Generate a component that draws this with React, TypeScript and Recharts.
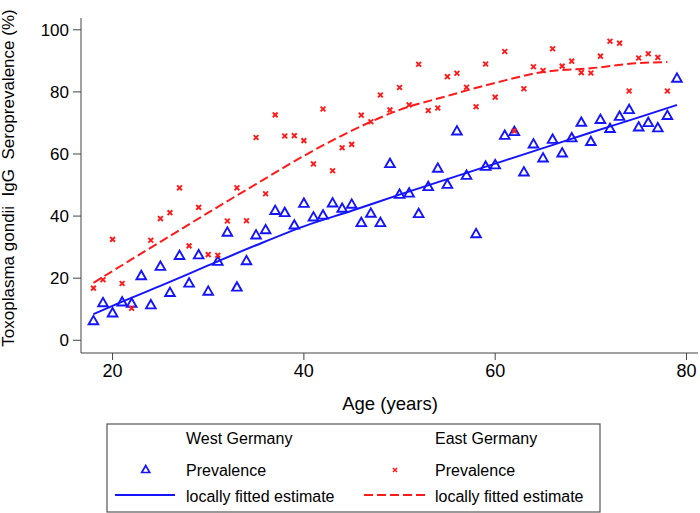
import React from 'react';
import { ComposedChart, XAxis, YAxis, Scatter, Line } from 'recharts';

const westAges = [18, 19, 20, 21, 22, 23, 24, 25, 26, 27, 28, 29, 30, 31, 32, 33, 34, 35, 36, 37, 38, 39, 40, 41, 42, 43, 44, 45, 46, 47, 48, 49, 50, 51, 52, 53, 54, 55, 56, 57, 58, 59, 60, 61, 62, 63, 64, 65, 66, 67, 68, 69, 70, 71, 72, 73, 74, 75, 76, 77, 78, 79];
const westPrevalence = [6.4, 12.2, 8.9, 12.4, 12.0, 20.9, 11.5, 23.9, 15.5, 27.4, 18.5, 27.6, 15.9, 25.5, 34.9, 17.2, 25.7, 34.0, 35.7, 41.9, 41.2, 37.2, 44.2, 39.8, 40.4, 44.3, 42.6, 43.9, 38.0, 41.0, 38.0, 57.0, 47.1, 47.5, 40.9, 49.6, 55.5, 50.3, 67.5, 53.2, 34.4, 56.1, 56.6, 66.1, 67.3, 54.3, 63.3, 58.8, 64.8, 60.4, 65.3, 70.3, 64.1, 71.2, 68.3, 72.2, 74.4, 68.8, 70.2, 68.5, 72.5, 84.5];

const eastAges = [18, 19, 20, 21, 22, 24, 25, 26, 27, 28, 29, 30, 31, 32, 33, 34, 35, 36, 37, 38, 39, 40, 41, 42, 43, 44, 45, 46, 47, 48, 49, 50, 51, 52, 53, 54, 55, 56, 57, 58, 59, 60, 61, 62, 63, 64, 65, 66, 67, 68, 69, 70, 71, 72, 73, 74, 75, 76, 77, 78];
const eastPrevalence = [16.8, 19.5, 32.5, 18.3, 10.3, 32.2, 39.2, 41.1, 49.1, 30.4, 42.8, 27.6, 27.4, 38.4, 49.1, 38.5, 65.3, 47.2, 72.6, 65.8, 65.9, 64.3, 56.8, 74.5, 54.6, 62.0, 63.1, 72.5, 70.4, 79.0, 74.2, 81.4, 75.8, 88.9, 74.0, 74.8, 84.9, 86.0, 81.5, 75.2, 89.0, 78.3, 93.0, 67.4, 81.0, 88.1, 86.9, 93.9, 88.3, 89.9, 86.2, 86.1, 91.5, 96.3, 95.7, 80.3, 90.9, 92.3, 91.1, 80.3];

const westFitAges = [18, 20, 25, 30, 35, 40, 45, 50, 55, 60, 65, 70, 75, 79];
const westFitValues = [8.4, 11.1, 17.5, 24.1, 30.6, 36.7, 41.7, 46.9, 51.9, 56.9, 61.9, 66.9, 71.8, 75.8];
const eastFitAges = [18, 20, 25, 30, 35, 40, 45, 50, 55, 60, 65, 70, 75, 78];
const eastFitValues = [18.5, 22.3, 31.7, 41.1, 50.3, 59.4, 67.5, 74.2, 78.7, 82.9, 86.4, 87.6, 89.3, 89.6];

const xTicks = [20, 40, 60, 80];
const yTicks = [0, 20, 40, 60, 80, 100];

const FONT = '"Liberation Sans", Arial, Helvetica, sans-serif';
const BLUE = '#1414ff';
const RED = '#ff1a1a';
const AXIS = '#444444';

const toPoints = (ages: number[], vals: number[]) => ages.map((age, i) => ({ age, v: vals[i] }));

const westPts = toPoints(westAges, westPrevalence);
const eastPts = toPoints(eastAges, eastPrevalence);
const westFit = toPoints(westFitAges, westFitValues);
const eastFit = toPoints(eastFitAges, eastFitValues);

const Triangle = (props: any) => {
  const { cx, cy } = props;
  if (cx == null || cy == null) return null;
  return (
    <polygon
      points={`${cx - 4.8},${cy + 3.8} ${cx + 4.8},${cy + 3.8} ${cx},${cy - 4.6}`}
      fill="none"
      stroke={BLUE}
      strokeWidth={1.9}
      strokeLinejoin="miter"
    />
  );
};

const Cross = (props: any) => {
  const { cx, cy } = props;
  if (cx == null || cy == null) return null;
  const d = 2.4;
  return (
    <g stroke={RED} strokeWidth={1.9}>
      <line x1={cx - d} y1={cy - d} x2={cx + d} y2={cy + d} />
      <line x1={cx - d} y1={cy + d} x2={cx + d} y2={cy - d} />
    </g>
  );
};

const YLabel = () => (
  <text
    x={13.5}
    y={178}
    transform="rotate(-90, 13.5, 178)"
    textAnchor="middle"
    fontSize={17}
    fontFamily={FONT}
    fill="#000"
    style={{ whiteSpace: 'pre' }}
  >
    {'Toxoplasma gondii  IgG  Seroprevalence (%)'}
  </text>
);

const XLabel = () => (
  <text x={390} y={403} textAnchor="middle" dominantBaseline="central" fontSize={18.5} fontFamily={FONT} fill="#000">
    Age (years)
  </text>
);

const LegendBox = () => (
  <svg width={495} height={90} style={{ position: 'absolute', left: 106, top: 423 }}>
    <rect x={1} y={1} width={493} height={88} fill="#fff" stroke="#555" strokeWidth={1.2} />
    <g fontFamily={FONT} fontSize={16} fill="#000">
      <text x={80} y={15} dominantBaseline="central">West Germany</text>
      <text x={329} y={15} dominantBaseline="central">East Germany</text>
      <text x={80} y={47} dominantBaseline="central">Prevalence</text>
      <text x={329} y={47} dominantBaseline="central">Prevalence</text>
      <text x={80} y={73} dominantBaseline="central">locally fitted estimate</text>
      <text x={329} y={73} dominantBaseline="central">locally fitted estimate</text>
    </g>
    <polygon points="35.7,49.5 43.7,49.5 39.7,42.5" fill="none" stroke={BLUE} strokeWidth={1.7} />
    <g stroke={RED} strokeWidth={1.6}>
      <line x1={287} y1={45} x2={291} y2={49} />
      <line x1={287} y1={49} x2={291} y2={45} />
    </g>
    <line x1={9} y1={72} x2={69} y2={72} stroke={BLUE} strokeWidth={2} />
    <line x1={258} y1={72} x2={320} y2={72} stroke={RED} strokeWidth={2} strokeDasharray="9 4" />
  </svg>
);

export default function App() {
  return (
    <div style={{ position: 'absolute', left: 0, top: 0, width: 700, height: 513, background: '#fff', fontFamily: FONT }}>
      <ComposedChart width={700} height={513} margin={{ top: 18, right: 2, left: 0, bottom: 100 }}>
        <XAxis
          type="number"
          dataKey="age"
          domain={[16.7, 81.2]}
          ticks={xTicks}
          allowDataOverflow
          height={60}
          tickSize={7}
          tickMargin={4}
          stroke={AXIS}
          tick={{ fontSize: 18, fill: '#000', fontFamily: FONT }}
          label={XLabel}
        />
        <YAxis
          type="number"
          dataKey="v"
          domain={[-4.1, 103.8]}
          ticks={yTicks}
          allowDataOverflow
          width={81}
          tickSize={8}
          tickMargin={4}
          stroke={AXIS}
          tick={{ fontSize: 17, fill: '#000', fontFamily: FONT }}
          label={YLabel}
        />
        <Line data={eastFit} dataKey="v" type="monotone" stroke={RED} strokeWidth={2} strokeDasharray="9 4" dot={false} isAnimationActive={false} />
        <Line data={westFit} dataKey="v" type="monotone" stroke={BLUE} strokeWidth={2} dot={false} isAnimationActive={false} />
        <Scatter data={westPts} dataKey="v" shape={Triangle} isAnimationActive={false} />
        <Scatter data={eastPts} dataKey="v" shape={Cross} isAnimationActive={false} />
      </ComposedChart>
      <LegendBox />
    </div>
  );
}
